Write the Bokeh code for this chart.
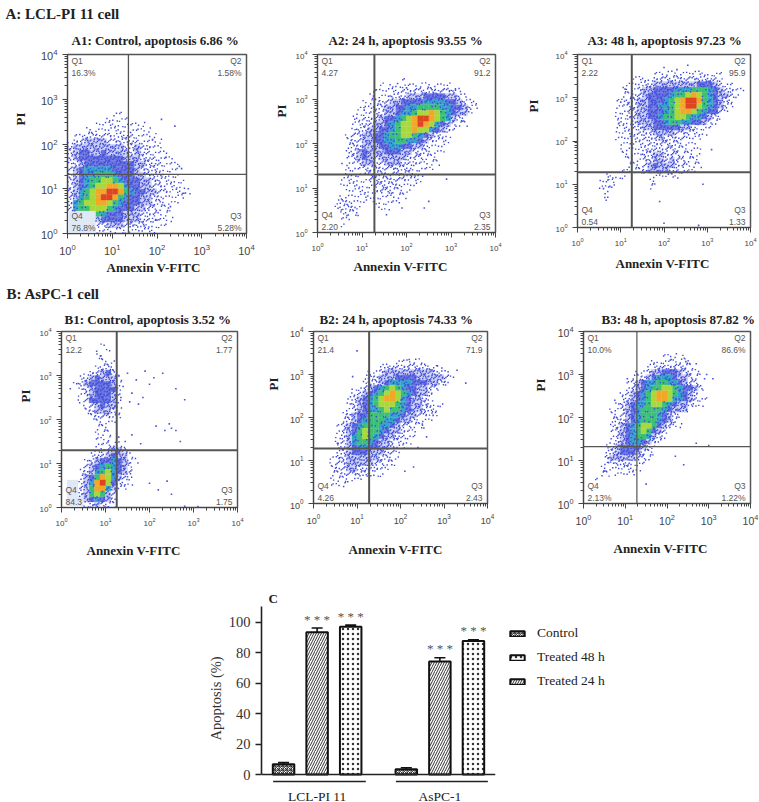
from bokeh.embed import file_html
from bokeh.resources import INLINE
from bokeh.plotting import figure
from bokeh.layouts import column, row
from bokeh.models import (Range1d, Label, Span, FactorRange, ColumnDataSource, Whisker, Legend, LegendItem,
                          FixedTicker, LogTicker, CategoricalAxis, TeeHead, Title)
from bokeh.core.properties import value

SERIF = "Liberation Serif"
SANS = "Liberation Sans"

# density: 8 cells per decade, rows from 10^4 downward, columns from 10^0 rightward
a1_rows = ["", "", "", "", "", "", "", "", "", "",
 "0000000011", "00000001111", "00000111111111", "00011111111111100", "01122222122211110",
 "12233332222221111", "23333333332232211", "23443343333232211100", "23444444443332221110",
 "12344444444433222111", "2345555544443222111100", "23455666544433222111", "234566776544433221111",
 "2345677887544332211110", "2356788998654433221111", "2356789986544332211110", "2567788765444332211100",
 "2566777654443322111", "ppppp6544433322211", "ppppp34444333222111", "ppppp22333222211110", "ppppp11111111111"]
a2_rows = ["", "", "", "", "00000000000000010", "00000000000101111111111100", "0000000000111112222222222100",
 "000000000111122233344443321", "00000000111223344445555443211", "00000001112233445566665544321",
 "0000000111223345567787654331", "000000112223445678998765321", "000000112233456778987543211",
 "0000001223344567787754321", "000001223344566776543211", "000001223344556655432111", "00000122333445544332111",
 "00000123433344433222111", "00000123432333332221110", "0000011233223332221111", "000001112222222221111",
 "0000011112222222211", "00001111122222221110", "00001111112222211100", "0000011111222211100", "0000111111111111",
 "0001221110111110", "0001222100011", "0000121100", "00001100", "00001", ""]
a3_rows = ["", "", "", "000000000000001111111111111", "000000000011112222222222221", "00000000011122333333334443211",
 "0000000011123344445556665432211", "000000001122344445667876543321", "00000001122334445678998654321",
 "00000001122334455678997654321", "0000000112233444567887654421", "000000011223344566776554321",
 "00000001112333445665544321", "0000000111223344444332111", "000000011112223333222111", "0000000111112223222211100",
 "0000000011111222222111", "00000000111122222221111", "00000000111122332221111", "00000000011122332322111",
 "00000000011123433322111", "00000000111123333221110", "0000011110000011111", "000011100000011", "00001110000001",
 "000001", "0000010", "", "", "", "", ""]
b1_rows = ["", "", "000000010", "00000000100", "000000110", "0000000111", "000000122100000", "0000122342",
 "00012343331", "00123444431", "00012344441", "00012344431", "00012444431", "00001234331", "00001233321",
 "00000122211", "00000011110", "000000111", "0000001110", "0000001110", "00000011211", "0000001223320",
 "00000122343310", "00001234454321", "0000234565431", "00012356754320", "0001346875321", "0pp1358974211",
 "0pp236885311", "0pp2367632", "0ppp345432", "0ppp123221"]
b2_rows = ["", "", "", "", "", "00000000000000011111", "00000000000012222222211", "0000000000112333333333211",
 "00000000012233344443333321", "0000000001223455554443322", "00000001123456765443322", "0000000123456787654332",
 "0000001234567887543321", "000000123456777654332111", "00000012345567665433221", "00000123446666554332211",
 "0000012345666554332111", "0000123456665543221110", "0000123467665433211", "0000123567654332211",
 "000012356654332111", "00001234554433211", "0000123444333221", "0001223333332211", "000122333332211",
 "00012233222211", "0001122222111", "000111111", "0001110", "", "", ""]
b3_rows = ["", "", "", "", "00000000000000011101", "000000000000011111111", "000000000000112222221",
 "00000000001123344432211", "0000000001123455543321", "0000000012345566554322", "00000000123456677654432",
 "0000000123456788765432", "000000012345678875543211", "00000012345567765433211", "00000112345666654333",
 "0000011234566654321", "000001223456665432", "0000012345677643211", "0000012345676432", "0000012345665321",
 "000001234554321", "00001234444321", "00001234443211", "0000233333221", "000011222111", "00011111111", "0001101111",
 "001", "", "", "", ""]

# isolated events, log10 values
a1_sx = [2.1, 2.4, 1.9, 2.2, 2.5, 2.7, 2.6, 1.7, 1.4, 2.3, 2.0, 2.55]
a1_sy = [2.55, 2.4, 2.1, 1.7, 1.5, 1.0, 0.9, 0.2, 0.15, 0.6, 0.3, 1.45]
a2_sx = [1.8, 1.3, 2.0, 2.6, 3.1, 3.25, 2.5, 2.9, 1.9, 2.4, 1.55, 1.05, 0.55, 0.7]
a2_sy = [3.35, 3.2, 3.25, 3.15, 3.2, 2.5, 0.7, 1.2, 0.55, 0.55, 0.4, 2.75, 1.55, 1.45]
a3_sx = [2.55, 2.0, 2.3, 1.1, 1.0, 0.95, 2.0, 2.8, 0.7, 0.75, 0.6, 0.7, 1.9, 2.9, 3.1]
a3_sy = [3.75, 3.7, 3.65, 3.2, 2.9, 2.4, 0.1, 0.05, 1.1, 0.95, 0.9, 0.7, 0.6, 1.0, 1.8]
b1_sx = [1.3, 1.5, 1.7, 1.9, 2.1, 2.3, 2.6, 2.8, 1.4, 1.6, 1.85, 2.0, 1.35, 1.55, 1.75, 2.45, 2.15, 2.35, 2.5, 2.6, 2.7, 1.3, 1.45, 1.6, 1.8, 1.25, 1.4, 1.5, 2.0, 2.2, 2.5, 2.8, 3.1, 0.2, 0.8, 0.9, 2.4]
b1_sy = [3.0, 3.05, 2.9, 3.1, 2.95, 3.05, 2.7, 2.45, 2.75, 2.6, 2.5, 2.8, 2.5, 2.4, 2.35, 1.9, 1.85, 1.75, 1.8, 1.75, 1.5, 1.6, 1.5, 1.65, 1.45, 1.1, 0.95, 0.7, 0.55, 0.4, 0.3, 0.03, 0.02, 2.7, 3.55, 3.45, 0.6]
b2_sx = [2.85, 2.95, 3.3, 3.5, 2.4, 2.6, 1.0, 0.9, 1.8, 2.1, 2.3, 2.5, 2.75, 0.55, 2.6, 2.2]
b2_sy = [3.2, 3.15, 3.1, 2.8, 1.3, 1.55, 3.55, 2.95, 0.9, 0.75, 0.85, 1.85, 2.05, 1.4, 2.3, 3.35]
b3_sx = [2.1, 2.45, 2.7, 2.95, 3.1, 1.8, 2.2, 2.4, 3.0, 0.5, 0.6, 2.7, 1.5, 0.75, 1.05, 2.9]
b3_sy = [3.35, 3.3, 3.25, 3.0, 2.9, 3.1, 1.1, 0.9, 1.35, 0.75, 0.95, 1.4, 0.45, 2.4, 2.9, 2.9]

panel_titles = ["A1: Control, apoptosis 6.86 %", "A2: 24 h, apoptosis 93.55 %", "A3: 48 h, apoptosis 97.23 %",
                "B1: Control, apoptosis 3.52 %", "B2: 24 h, apoptosis 74.33 %", "B3: 48 h, apoptosis 87.82 %"]
q_texts = [["16.3%", "1.58%", "76.8%", "5.28%"], ["4.27", "91.2", "2.20", "2.35"], ["2.22", "95.9", "0.54", "1.33"],
           ["12.2", "1.77", "84.3", "1.75"], ["21.4", "71.9", "4.26", "2.43"], ["10.0%", "86.6%", "2.13%", "1.22%"]]
gates_x = [23, 19, 18, 18, 19, 19]
gates_y = [21, 20, 19, 20, 19, 21]

groups = ["LCL-PI 11", "AsPC-1"]
control = [6.86, 3.52]
treated_24 = [93.55, 74.33]
treated_48 = [97.23, 87.82]
err_control = [1.0, 1.0]
err_24 = [2.8, 2.5]
err_48 = [1.0, 0.8]
y_ticks = [0, 20, 40, 60, 80, 100]

SOLID = {"4": "#6a74e2", "5": "#35a4cc", "6": "#3cc078", "7": "#a8d83c", "8": "#f0a828", "9": "#e04420",
         "p": "#dfe8f5", "3": "#ccd0f6"}
DOTS = {"1": 2, "2": 4, "3": 6, "4": 5, "5": 3, "6": 1}
DOT_U = [.2, .7, .45, .9, .1, .6, .35, .8, .55, .05, .3, .75]
DOT_V = [.3, .65, .1, .9, .75, .35, .55, .15, .85, .45, .95, .5]


def panel(idx, rows, sx, sy, fw, fh, left, right, top, bottom, tick_size, gate_w, title_pos, ann, pi_pos, gray="#555555"):
    p = figure(width=left + fw + right, height=top + fh + bottom, frame_width=fw, frame_height=fh, title=None,
               x_axis_type="log", y_axis_type="log", x_range=Range1d(1, 1e4), y_range=Range1d(1, 1e4),
               output_backend="svg", toolbar_location=None,
               min_border_left=left, min_border_right=right, min_border_top=top, min_border_bottom=bottom)
    p.grid.visible = False
    p.outline_line_color = gray
    p.outline_line_width = 1.5
    p.add_layout(Title(text=panel_titles[idx], align="left", offset=title_pos[0], standoff=title_pos[1], text_font=SERIF,
                       text_font_size="13px", text_font_style="bold", text_color="#222222"), "above")
    for ax in (p.xaxis[0], p.yaxis[0]):
        ax.ticker = LogTicker(desired_num_ticks=4, num_minor_ticks=10)
        ax.major_label_text_font = SANS
        ax.major_label_text_font_size = tick_size
        ax.major_label_text_color = "#444444"
        ax.major_tick_out = 5
        ax.major_tick_in = 0
        ax.minor_tick_out = 3
        ax.minor_tick_in = 0
        ax.axis_line_color = "#444444"
        ax.major_tick_line_color = "#444444"
        ax.minor_tick_line_color = "#444444"
    for level, col in SOLID.items():
        l, r, t, b = [], [], [], []
        for ri, s in enumerate(rows):
            for ci, ch in enumerate(s):
                if ch == level:
                    l.append(10 ** (ci / 8)); r.append(10 ** ((ci + 1) / 8))
                    t.append(10 ** (4 - ri / 8)); b.append(10 ** (4 - (ri + 1) / 8))
        if l:
            p.quad(left=l, right=r, top=t, bottom=b, fill_color=col, line_color=col, line_width=0.3)
    dx, dy = [], []
    for ri, s in enumerate(rows):
        for ci, ch in enumerate(s):
            for k in range(DOTS.get(ch, 0)):
                j = (ri * 5 + ci * 7 + k) % 12
                dx.append(10 ** ((ci + DOT_U[j]) / 8))
                dy.append(10 ** (4 - (ri + DOT_V[j]) / 8))
    p.scatter(dx, dy, marker="square", size=1.4, color="#3f4bd6", line_color=None)
    p.scatter([10 ** v for v in sx], [10 ** v for v in sy], marker="square", size=1.6, color="#4a55d8", line_color=None)
    p.add_layout(Span(location=gates_x[idx], dimension="height", line_color=gray, line_width=gate_w))
    p.add_layout(Span(location=gates_y[idx], dimension="width", line_color=gray, line_width=gate_w))
    qt = q_texts[idx]
    for name, x, y, xo, align, yo1, yo2, txt in [
        ("Q1", 1, 1e4, 4, "left", -6, -18, qt[0]), ("Q2", 1e4, 1e4, -5, "right", -6, -18, qt[1]),
        ("Q4", 1, 1, 4, "left", 18, 6, qt[2]), ("Q3", 1e4, 1, -5, "right", 18, 6, qt[3])]:
        for t, yo in ((name, yo1), (txt, yo2)):
            p.add_layout(Label(x=x, y=y, x_offset=xo, y_offset=yo, text=t, text_align=align, text_baseline="middle",
                               text_font=SANS, text_font_size="8.5px", text_color="#555555"))
    p.add_layout(Title(text="Annexin V-FITC", align="left", offset=ann[0], standoff=ann[1], text_font=SERIF,
                       text_font_size="13px", text_font_style="bold", text_color="#222222"), "below")
    p.add_layout(Title(text="PI", align="left", offset=pi_pos[1], standoff=pi_pos[0], text_font=SERIF,
                       text_font_size="13px", text_font_style="bold", text_color="#222222"), "left")
    return p


f1 = panel(0, a1_rows, a1_sx, a1_sy, 179, 179, 67, 19, 54, 47, "11px", 1.3, (4, 14), (39, 0), (19, 108))
f2 = panel(1, a2_rows, a2_sx, a2_sy, 178, 178, 52, 17, 54, 48, "8px", 2, (11, 14), (36, 7), (7, 115))
f3 = panel(2, a3_rows, a3_sx, a3_sy, 173, 173, 64, 10, 54, 53, "8px", 2, (10, 14), (38, 10), (23, 115))
f4 = panel(3, b1_rows, b1_sx, b1_sy, 176, 176, 61, 19, 50, 64, "8px", 2, (3, 10), (25, 24), (8, 105))
f5 = panel(4, b2_rows, b2_sx, b2_sy, 174, 172, 57, 35, 50, 68, "9px", 2, (6, 10), (35, 27), (12, 113))
f6 = panel(5, b3_rows, b3_sx, b3_sy, 167, 172, 61, 9, 50, 68, "10.5px", 1.2, (18, 10), (30, 23), (13, 112))

f1.add_layout(Title(text="A: LCL-PI 11 cell", align="left", offset=-62, standoff=4, text_font=SERIF,
                    text_font_size="15px", text_font_style="bold", text_color="#222222"), "above")
f4.add_layout(Title(text="B: AsPC-1  cell", align="left", offset=-55, standoff=6, text_font=SERIF,
                    text_font_size="15px", text_font_style="bold", text_color="#222222"), "above")

# bar chart C
treats = ["Control", "Treated 24 h", "Treated 48 h"]
factors = [(g, t) for g in groups for t in treats]
xr = FactorRange(factors=factors, factor_padding=0, group_padding=0.657, range_padding=0.157, range_padding_units="absolute")
c = figure(width=759, height=232, frame_width=234, frame_height=197, x_range=xr, y_range=Range1d(-19, 110.5),
           output_backend="svg", toolbar_location=None, min_border_left=261, min_border_right=264,
           min_border_top=35, min_border_bottom=0, x_axis_location=None)
c.grid.visible = False
c.outline_line_color = None

xa = CategoricalAxis(fixed_location=0)
xa.axis_line_color = "#222222"
xa.axis_line_width = 1.6
xa.major_tick_line_color = None
xa.major_label_text_font_size = "0px"
xa.major_label_text_color = None
xa.separator_line_color = None
xa.group_text_font = SERIF
xa.group_text_font_size = "13.5px"
xa.group_text_color = "#222222"
xa.group_text_font_style = "normal"
xa.major_label_standoff = 8
c.add_layout(xa, "below")

ya = c.yaxis[0]
ya.bounds = (0, 110.5)
ya.ticker = FixedTicker(ticks=y_ticks)
ya.major_label_text_font = SERIF
ya.major_label_text_font_size = "14.5px"
ya.major_label_text_color = "#333333"
ya.axis_line_color = "#222222"
ya.axis_line_width = 1.6
ya.major_tick_line_color = "#222222"
ya.major_tick_line_width = 1.5
ya.major_tick_out = 6
ya.major_tick_in = 0
ya.minor_tick_line_color = None

renderers = {}
for name, vals, errs, pattern, scale, weight in [("Control", control, err_control, "criss_cross", 4, 1),
                                                 ("Treated 24 h", treated_24, err_24, "right_diagonal_line", 5, 1),
                                                 ("Treated 48 h", treated_48, err_48, "dot", 5, 0.5)]:
    xs = [(g, name) for g in groups]
    src = ColumnDataSource(dict(x=xs, top=vals, up=[v + e for v, e in zip(vals, errs)]))
    renderers[name] = c.vbar(x="x", top="top", bottom=0, width=0.64, source=src, fill_color="white",
                             line_color="#111111", line_width=2, hatch_pattern=pattern, hatch_scale=scale,
                             hatch_color="#333333", hatch_weight=weight)
    c.add_layout(Whisker(source=src, base="x", lower="top", upper="up", line_color="#111111", line_width=1.6,
                         upper_head=TeeHead(size=11, line_color="#111111", line_width=1.6), lower_head=None))

stars_x = [(groups[0], "Treated 24 h"), (groups[0], "Treated 48 h"), (groups[1], "Treated 24 h"), (groups[1], "Treated 48 h")]
stars_y = [v + e + 1 for v, e in zip([treated_24[0], treated_48[0], treated_24[1], treated_48[1]],
                                     [err_24[0], err_48[0], err_24[1], err_48[1]])]
c.text(x=stars_x, y=stars_y, text=["* * *"] * 4, text_align="center", text_baseline="bottom",
       text_font=value(SERIF), text_font_size="13px", text_color="#555555")

c.segment(x0=[(groups[0], "Control", -0.31), (groups[1], "Control", -0.31)], y0=[-4.6, -4.6],
          x1=[(groups[0], "Treated 48 h", 0.45), (groups[1], "Treated 48 h", 0.43)], y1=[-4.6, -4.6],
          line_color="#222222", line_width=1.5)

legend = Legend(items=[LegendItem(label="Control", renderers=[renderers["Control"]]),
                       LegendItem(label="Treated 48 h", renderers=[renderers["Treated 48 h"]]),
                       LegendItem(label="Treated 24 h", renderers=[renderers["Treated 24 h"]])],
                location=(13, 114), border_line_color=None, background_fill_color=None, padding=0, margin=0,
                glyph_width=18, glyph_height=7, label_standoff=11, spacing=8, label_height=14,
                label_text_font=SERIF, label_text_font_size="13.5px", label_text_color="#222222")
c.add_layout(legend, "right")

c.add_layout(Title(text="C", align="left", offset=7, standoff=2, text_font=SERIF, text_font_size="13px",
                   text_font_style="bold", text_color="#222222"), "above")
c.add_layout(Title(text="Apoptosis (%)", align="left", offset=63, standoff=3, text_font=SERIF, text_font_size="14.5px",
                   text_font_style="normal", text_color="#333333"), "left")

page = column(row(f1, f2, f3, spacing=0), row(f4, f5, f6, spacing=0), c, spacing=0)
open("out.html", "w").write(file_html(page, INLINE))
